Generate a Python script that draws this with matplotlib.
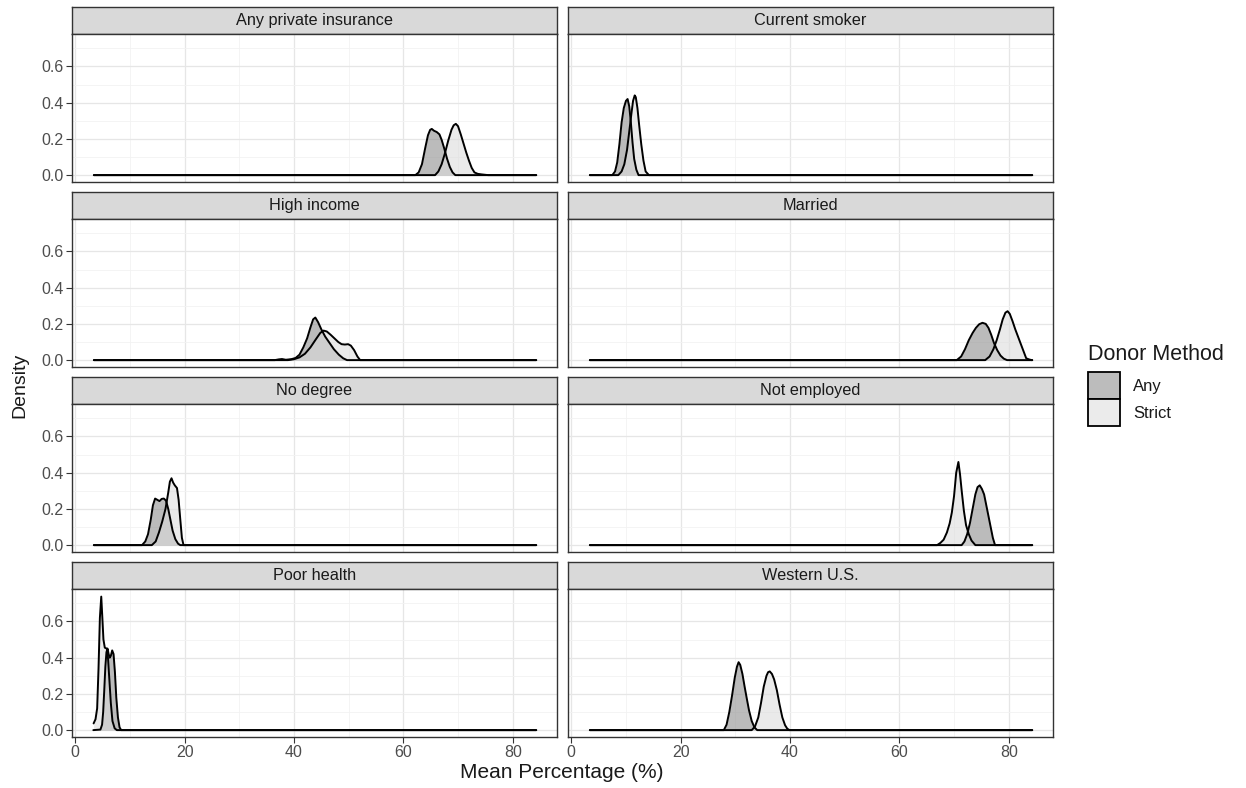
import matplotlib.pyplot as plt
from matplotlib.patches import Rectangle

# facet names (reading order, 2 columns) and group labels
facets = ['Any private insurance', 'Current smoker', 'High income', 'Married',
          'No degree', 'Not employed', 'Poor health', 'Western U.S.']
methods = ['Any', 'Strict']
x_ticks = [0, 20, 40, 60, 80]
y_ticks = [0.0, 0.2, 0.4, 0.6]
x_range = [3.4, 84.3]  # span of the density estimates

# density curves (x = mean percentage, y = density)
insurance_any_x = [62.2, 62.8, 63.4, 64.0, 64.5, 64.9, 65.2, 65.6, 66.1, 66.6, 67.0, 67.5, 68.0, 68.5, 69.0, 69.5]
insurance_any_y = [0, 0.015, 0.06, 0.15, 0.22, 0.25, 0.255, 0.245, 0.238, 0.225, 0.195, 0.145, 0.09, 0.045, 0.015, 0]
insurance_strict_x = [65.8, 66.4, 67.0, 67.6, 68.2, 68.8, 69.2, 69.6, 70.0, 70.5, 71.0, 71.5, 72.0, 72.5, 73.0, 73.6, 74.3, 75.5]
insurance_strict_y = [0, 0.02, 0.06, 0.12, 0.19, 0.25, 0.275, 0.283, 0.27, 0.225, 0.175, 0.125, 0.08, 0.04, 0.015, 0.007, 0.004, 0]

smoker_any_x = [7.5, 8.0, 8.4, 8.8, 9.2, 9.6, 10.0, 10.3, 10.6, 10.9, 11.2, 11.5, 11.9, 12.3]
smoker_any_y = [0, 0.02, 0.07, 0.17, 0.29, 0.37, 0.41, 0.42, 0.38, 0.29, 0.18, 0.09, 0.03, 0]
smoker_strict_x = [8.6, 9.2, 9.7, 10.2, 10.6, 11.0, 11.3, 11.6, 11.8, 12.1, 12.4, 12.8, 13.2, 13.6, 14.2]
smoker_strict_y = [0, 0.02, 0.06, 0.14, 0.24, 0.34, 0.41, 0.44, 0.43, 0.37, 0.28, 0.17, 0.08, 0.02, 0]

income_any_x = [36.5, 37.2, 37.8, 38.5, 39.5, 40.3, 41.0, 41.7, 42.4, 43.0, 43.5, 43.9, 44.4,
                45.0, 45.7, 46.5, 47.3, 48.2, 49.0, 49.7]
income_any_y = [0, 0.004, 0.006, 0.002, 0.005, 0.012, 0.03, 0.07, 0.12, 0.18, 0.225, 0.235, 0.21,
                0.17, 0.13, 0.095, 0.06, 0.03, 0.01, 0]
income_strict_x = [38.9, 40.0, 41.0, 42.0, 43.0, 44.0, 44.8, 45.4, 46.0, 46.7, 47.4, 48.1, 48.7,
                   49.3, 49.9, 50.4, 51.0, 51.6, 52.1]
income_strict_y = [0, 0.005, 0.015, 0.035, 0.07, 0.115, 0.15, 0.163, 0.158, 0.14, 0.12, 0.1, 0.088,
                   0.086, 0.088, 0.08, 0.055, 0.02, 0]

married_any_x = [70.5, 71.3, 72.0, 72.7, 73.4, 74.0, 74.6, 75.2, 75.8, 76.3, 76.8, 77.3, 77.9, 78.5, 79.1, 79.7]
married_any_y = [0, 0.02, 0.06, 0.11, 0.15, 0.178, 0.198, 0.206, 0.2, 0.178, 0.14, 0.095, 0.055, 0.025, 0.008, 0]
married_strict_x = [75.7, 76.5, 77.2, 77.8, 78.4, 78.9, 79.4, 79.8, 80.2, 80.7, 81.2, 81.7, 82.2, 82.7,
                    83.2, 83.7, 84.2]
married_strict_y = [0, 0.02, 0.06, 0.11, 0.17, 0.225, 0.262, 0.27, 0.255, 0.215, 0.17, 0.13, 0.09, 0.05,
                    0.01, 0.004, 0]

nodegree_any_x = [12.2, 12.8, 13.3, 13.8, 14.2, 14.6, 15.0, 15.4, 15.8, 16.2, 16.6, 17.0, 17.4, 17.8,
                  18.3, 18.8, 19.2]
nodegree_any_y = [0, 0.02, 0.06, 0.14, 0.22, 0.257, 0.25, 0.243, 0.255, 0.257, 0.245, 0.2, 0.14, 0.08,
                  0.033, 0.008, 0]
nodegree_strict_x = [14.0, 14.7, 15.3, 15.9, 16.5, 17.0, 17.3, 17.6, 17.9, 18.2, 18.6, 18.9, 19.2, 19.5, 19.8]
nodegree_strict_y = [0, 0.02, 0.07, 0.13, 0.2, 0.29, 0.35, 0.369, 0.345, 0.33, 0.315, 0.25, 0.143, 0.04, 0]

employed_any_x = [71.4, 71.9, 72.4, 72.9, 73.4, 73.9, 74.3, 74.7, 75.1, 75.5, 75.9, 76.3, 76.7, 77.1, 77.5]
employed_any_y = [0, 0.02, 0.06, 0.12, 0.2, 0.28, 0.32, 0.33, 0.31, 0.28, 0.22, 0.16, 0.1, 0.04, 0]
employed_strict_x = [66.9, 67.5, 68.1, 68.7, 69.2, 69.6, 70.0, 70.4, 70.8, 71.1, 71.4, 71.8, 72.2,
                     72.7, 73.2, 73.9]
employed_strict_y = [0, 0.012, 0.03, 0.07, 0.12, 0.18, 0.27, 0.4, 0.459, 0.39, 0.3, 0.19, 0.11,
                     0.06, 0.025, 0]

health_any_x = [3.3, 4.6, 4.9, 5.1, 5.3, 5.5, 5.7, 5.9, 6.1, 6.3, 6.5, 6.75, 7.0, 7.25, 7.5, 7.8, 8.1, 8.4]
health_any_y = [0, 0.003, 0.03, 0.1, 0.22, 0.35, 0.43, 0.45, 0.42, 0.40, 0.41, 0.44, 0.42, 0.32, 0.18,
                0.07, 0.015, 0]
health_strict_x = [3.35, 3.7, 4.0, 4.25, 4.5, 4.75, 4.95, 5.15, 5.4, 5.6, 5.8, 6.0, 6.25, 6.5, 6.8, 7.2, 7.6]
health_strict_y = [0.037, 0.06, 0.12, 0.34, 0.62, 0.737, 0.62, 0.5, 0.455, 0.452, 0.45, 0.39, 0.27, 0.15,
                   0.05, 0.01, 0]

western_any_x = [27.9, 28.4, 28.9, 29.4, 29.9, 30.3, 30.6, 30.9, 31.3, 31.7, 32.1, 32.5, 33.0, 33.5, 34.0]
western_any_y = [0, 0.03, 0.1, 0.19, 0.29, 0.35, 0.375, 0.36, 0.31, 0.24, 0.174, 0.11, 0.05, 0.015, 0]
western_strict_x = [33.0, 33.6, 34.2, 34.7, 35.2, 35.7, 36.0, 36.3, 36.7, 37.1, 37.6, 38.1, 38.6, 39.1,
                    39.5, 39.9]
western_strict_y = [0, 0.02, 0.07, 0.15, 0.24, 0.3, 0.32, 0.324, 0.31, 0.28, 0.22, 0.14, 0.07, 0.027,
                    0.008, 0]

curves = [
    [(insurance_any_x, insurance_any_y), (insurance_strict_x, insurance_strict_y)],
    [(smoker_any_x, smoker_any_y), (smoker_strict_x, smoker_strict_y)],
    [(income_any_x, income_any_y), (income_strict_x, income_strict_y)],
    [(married_any_x, married_any_y), (married_strict_x, married_strict_y)],
    [(nodegree_any_x, nodegree_any_y), (nodegree_strict_x, nodegree_strict_y)],
    [(employed_any_x, employed_any_y), (employed_strict_x, employed_strict_y)],
    [(health_any_x, health_any_y), (health_strict_x, health_strict_y)],
    [(western_any_x, western_any_y), (western_strict_x, western_strict_y)],
]

fill_colors = ['#8f8f8f', '#dcdcdc']
fill_alpha = 0.6
key_colors = ['#bcbcbc', '#ebebeb']

W, H = 1246, 788
plt.rcParams['font.family'] = ['Liberation Sans', 'DejaVu Sans']
fig = plt.figure(figsize=(W / 100, H / 100), dpi=100)


def rect(x0, y0, x1, y1):
    # pixel box (top-left origin) -> figure fraction
    return [x0 / W, 1 - y1 / H, (x1 - x0) / W, (y1 - y0) / H]


cols_x = [(72, 557), (568, 1053)]
strip_tops = [7, 192, 377, 562]
strip_h = 27
panel_h = 148
border = '#333333'

for i, name in enumerate(facets):
    r, c = divmod(i, 2)
    x0, x1 = cols_x[c]
    st = strip_tops[r]

    # strip
    sax = fig.add_axes(rect(x0, st, x1, st + strip_h))
    sax.set_facecolor('#d9d9d9')
    sax.set_xticks([])
    sax.set_yticks([])
    for sp in sax.spines.values():
        sp.set_color(border)
        sp.set_linewidth(1.0)
    sax.text(0.5, 0.5, name, ha='center', va='center', fontsize=11.7,
             color='#1a1a1a', transform=sax.transAxes)

    # panel
    ax = fig.add_axes(rect(x0, st + strip_h, x1, st + strip_h + panel_h))
    ax.set_xlim(-0.6, 88.1)
    ax.set_ylim(-0.038, 0.779)
    ax.set_xticks(x_ticks)
    ax.set_xticks([10, 30, 50, 70], minor=True)
    ax.set_yticks(y_ticks)
    ax.set_yticks([0.1, 0.3, 0.5, 0.7], minor=True)
    ax.grid(which='major', color='#e6e6e6', linewidth=0.9)
    ax.grid(which='minor', color='#f2f2f2', linewidth=0.6)
    ax.set_axisbelow(True)
    for sp in ax.spines.values():
        sp.set_color(border)
        sp.set_linewidth(1.0)

    for k, (xs, ys) in enumerate(curves[i]):
        xs = list(xs)
        ys = list(ys)
        if xs[0] > x_range[0]:
            xs = [x_range[0]] + xs
            ys = [0.0] + ys
        if xs[-1] < x_range[1]:
            xs = xs + [x_range[1]]
            ys = ys + [0.0]
        ax.fill_between(xs, 0, ys, color=fill_colors[k], alpha=fill_alpha,
                        linewidth=0, zorder=2)
        ax.plot(xs, ys, color='black', linewidth=1.4, zorder=3,
                solid_joinstyle='round', solid_capstyle='round')

    ax.tick_params(which='minor', length=0)
    ax.tick_params(which='major', length=4, width=0.8, color=border,
                   labelsize=11.5, labelcolor='#4d4d4d', pad=2)
    if c == 0:
        ax.set_yticklabels([f'{v:.1f}' for v in y_ticks])
    else:
        ax.tick_params(axis='y', left=False, labelleft=False)
    if r == 3:
        ax.set_xticklabels([str(v) for v in x_ticks])
    else:
        ax.tick_params(axis='x', bottom=False, labelbottom=False)

fig.text(562 / W, 1 - 773 / H, 'Mean Percentage (%)', ha='center', va='center',
         fontsize=15, color='#1a1a1a')
fig.text(20 / W, 1 - 385 / H, 'Density', ha='center', va='center',
         rotation=90, fontsize=14, color='#1a1a1a')

# legend
fig.text(1088 / W, 1 - 354 / H, 'Donor Method', ha='left', va='center',
         fontsize=15.5, color='#1a1a1a')
key_tops = [372, 399]
for k, m in enumerate(methods):
    kt = key_tops[k]
    fig.patches.append(Rectangle((1088 / W, 1 - (kt + 27) / H), 32 / W, 27 / H,
                                 transform=fig.transFigure, facecolor=key_colors[k],
                                 edgecolor='black', linewidth=1.3))
    fig.text(1133 / W, 1 - (kt + 14) / H, m, ha='left', va='center',
             fontsize=12, color='#1a1a1a')

fig.savefig('out.png', dpi=100)
